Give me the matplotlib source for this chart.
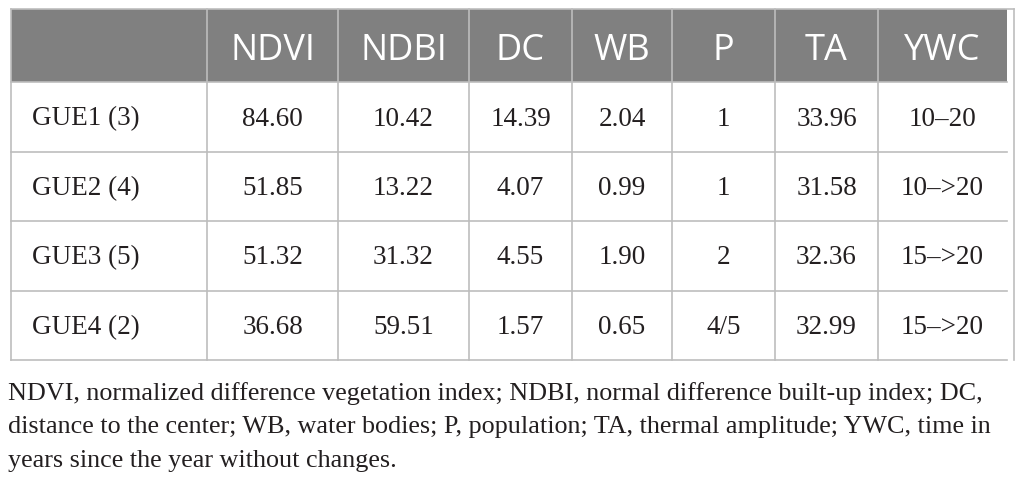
import matplotlib
matplotlib.use("Agg")
import matplotlib.pyplot as plt
from matplotlib.patches import Rectangle

# table content
columns = ["", "NDVI", "NDBI", "DC", "WB", "P", "TA", "YWC"]
row_labels = ["GUE1 (3)", "GUE2 (4)", "GUE3 (5)", "GUE4 (2)"]
ndvi = ["84.60", "51.85", "51.32", "36.68"]
ndbi = ["10.42", "13.22", "31.32", "59.51"]
dc = ["14.39", "4.07", "4.55", "1.57"]
wb = ["2.04", "0.99", "1.90", "0.65"]
pop = ["1", "1", "2", "4/5"]
ta = ["33.96", "31.58", "32.36", "32.99"]
ywc = ["10\u201320", "10\u2013>20", "15\u2013>20", "15\u2013>20"]
footnote = [
    "NDVI, normalized difference vegetation index; NDBI, normal difference built-up index; DC,",
    "distance to the center; WB, water bodies; P, population; TA, thermal amplitude; YWC, time in",
    "years since the year without changes.",
]

# layout in pixels
col_edges = [11, 207, 338, 469, 572, 672, 775, 878, 1007]
row_edges = [10, 83, 153, 222, 292, 361]
header_bg = "#808080"
line_col = "#bdbdbd"

fig = plt.figure(figsize=(10.26, 4.85), dpi=100)
ax = fig.add_axes([0, 0, 1, 1])
ax.set_xlim(0, 1026)
ax.set_ylim(485, 0)
ax.axis("off")

# header band
ax.add_patch(Rectangle((col_edges[0], row_edges[0]), col_edges[-1] - col_edges[0],
                       row_edges[1] - row_edges[0], facecolor=header_bg, edgecolor="none"))

# grid lines
for x in col_edges[:-1]:
    ax.plot([x, x], [row_edges[0], row_edges[-1]], color=line_col, lw=1.2)
for y in row_edges[1:]:
    ax.plot([col_edges[0], col_edges[-1]], [y, y], color=line_col, lw=1.2)
ax.plot([col_edges[0], 1014], [row_edges[0], row_edges[0]], color=line_col, lw=1.2)
ax.plot([1014, 1014], [row_edges[0], row_edges[-1]], color=line_col, lw=1.2)

# header text
for i, name in enumerate(columns):
    if not name:
        continue
    cx = (col_edges[i] + col_edges[i + 1]) / 2
    ax.text(cx, (row_edges[0] + row_edges[1]) / 2 + 4, name, color="white",
            fontsize=26, family="Open Sans", ha="center", va="center")

# body
data_cols = [ndvi, ndbi, dc, wb, pop, ta, ywc]
for r, label in enumerate(row_labels):
    cy = (row_edges[r + 1] + row_edges[r + 2]) / 2 + 1
    ax.text(32, cy, label, fontsize=19.5, family="Liberation Serif",
            color="#231f20", ha="left", va="center")
    for c, vals in enumerate(data_cols):
        cx = (col_edges[c + 1] + col_edges[c + 2]) / 2
        ax.text(cx, cy, vals[r], fontsize=19.5, family="Liberation Serif",
                color="#231f20", ha="center", va="center")

# footnote
for k, line in enumerate(footnote):
    ax.text(8, 394 + k * 33.5, line, fontsize=18.8, family="Liberation Serif",
            color="#231f20", ha="left", va="center")

fig.savefig("out.png", dpi=100)
